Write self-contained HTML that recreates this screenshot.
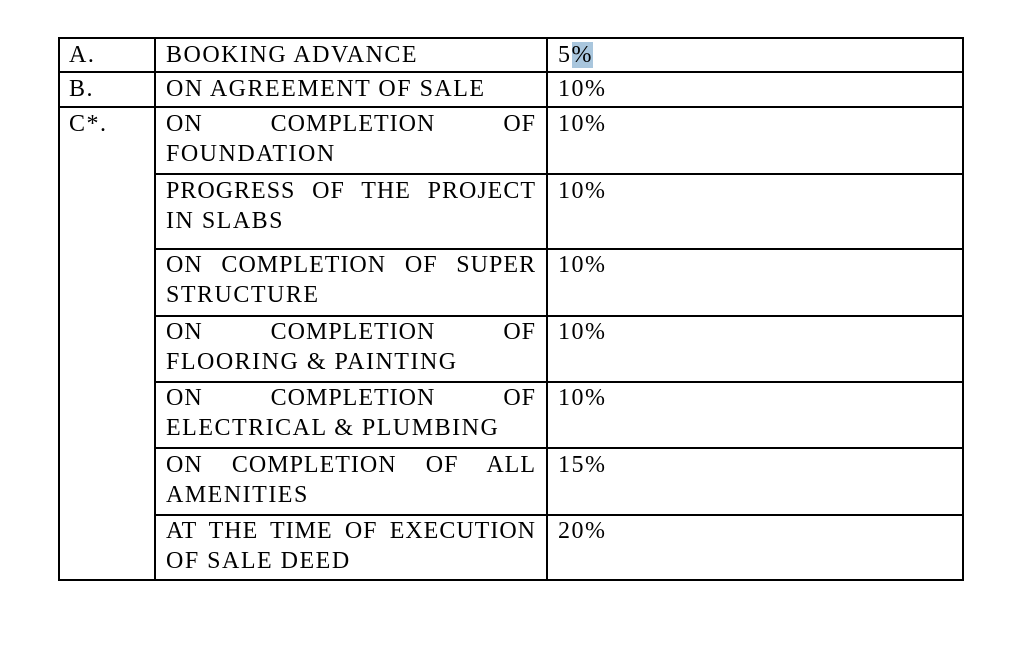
<!DOCTYPE html>
<html><head><meta charset="utf-8"><style>
body{margin:0;width:1018px;height:646px;background:#fff;position:relative;overflow:hidden;font-family:"Liberation Serif",serif;font-size:24px;letter-spacing:1.5px;color:#000}
.h{position:absolute;height:2px;background:#000}
.v{position:absolute;width:2px;background:#000}
.t{position:absolute;line-height:30px;white-space:nowrap;margin-top:1px}
.j{position:absolute;line-height:30px;width:370px;text-align:justify;text-align-last:justify;white-space:normal;margin-top:1px;letter-spacing:1px}
.hl{background:#a9c6dd}
</style></head><body>
<div class="h" style="left:58px;width:906px;top:37px"></div>
<div class="h" style="left:58px;width:906px;top:71px"></div>
<div class="h" style="left:58px;width:906px;top:106px"></div>
<div class="h" style="left:155px;width:809px;top:173px"></div>
<div class="h" style="left:155px;width:809px;top:248px"></div>
<div class="h" style="left:155px;width:809px;top:315px"></div>
<div class="h" style="left:155px;width:809px;top:381px"></div>
<div class="h" style="left:155px;width:809px;top:447px"></div>
<div class="h" style="left:155px;width:809px;top:514px"></div>
<div class="h" style="left:58px;width:906px;top:579px"></div>
<div class="v" style="left:58px;top:37px;height:544px"></div>
<div class="v" style="left:154px;top:37px;height:544px"></div>
<div class="v" style="left:546px;top:37px;height:544px"></div>
<div class="v" style="left:962px;top:37px;height:544px"></div>

<div class="t" style="left:69px;top:39px">A.</div>
<div class="t" style="left:166px;top:39px">BOOKING ADVANCE</div>
<div class="t" style="left:558px;top:39px">5<span class="hl">%</span></div>

<div class="t" style="left:69px;top:73px">B.</div>
<div class="t" style="left:166px;top:73px">ON AGREEMENT OF SALE</div>
<div class="t" style="left:558px;top:73px">10%</div>

<div class="t" style="left:69px;top:108px">C*.</div>
<div class="j" style="left:166px;top:108px">ON COMPLETION OF</div>
<div class="t" style="left:166px;top:138px">FOUNDATION</div>
<div class="t" style="left:558px;top:108px">10%</div>

<div class="j" style="left:166px;top:175px">PROGRESS OF THE PROJECT</div>
<div class="t" style="left:166px;top:205px">IN SLABS</div>
<div class="t" style="left:558px;top:175px">10%</div>

<div class="j" style="left:166px;top:249px">ON COMPLETION OF SUPER</div>
<div class="t" style="left:166px;top:279px">STRUCTURE</div>
<div class="t" style="left:558px;top:249px">10%</div>

<div class="j" style="left:166px;top:316px">ON COMPLETION OF</div>
<div class="t" style="left:166px;top:346px">FLOORING &amp; PAINTING</div>
<div class="t" style="left:558px;top:316px">10%</div>

<div class="j" style="left:166px;top:382px">ON COMPLETION OF</div>
<div class="t" style="left:166px;top:412px">ELECTRICAL &amp; PLUMBING</div>
<div class="t" style="left:558px;top:382px">10%</div>

<div class="j" style="left:166px;top:449px">ON COMPLETION OF ALL</div>
<div class="t" style="left:166px;top:479px">AMENITIES</div>
<div class="t" style="left:558px;top:449px">15%</div>

<div class="j" style="left:166px;top:515px">AT THE TIME OF EXECUTION</div>
<div class="t" style="left:166px;top:545px">OF SALE DEED</div>
<div class="t" style="left:558px;top:515px">20%</div>
</body></html>
